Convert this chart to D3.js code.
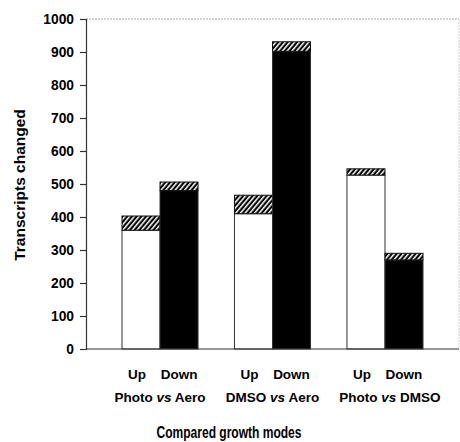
<!DOCTYPE html>
<html>
<head>
<meta charset="utf-8">
<script src="https://cdn.jsdelivr.net/npm/d3@7/dist/d3.min.js"></script>
<style>
  html, body { margin: 0; padding: 0; background: #fff; }
  svg { display: block; font-family: Arial, "Liberation Sans", sans-serif; }
</style>
</head>
<body>
<svg id="chart" width="460" height="442"></svg>
<script>
// Comparisons (pairs of growth modes)
const groups = ["Photo vs Aero", "DMSO vs Aero", "Photo vs DMSO"];
const groupA = ["Photo", "DMSO", "Photo"];
const groupB = ["Aero", "Aero", "DMSO"];
const directions = ["Up", "Down"];

// Transcripts changed: solid portion and hatched portion stacked on top
const upBase = [360, 410, 527];
const upHatched = [43, 56, 19];
const downBase = [480, 902, 270];
const downHatched = [26, 29, 20];

const yTicks = [0, 100, 200, 300, 400, 500, 600, 700, 800, 900, 1000];

(function () {
  const svg = d3.select("#chart");
  const plotLeft = 86, plotRight = 459, plotTop = 19, plotBottom = 349;

  // Hatch pattern for the top segments
  const defs = svg.append("defs");
  const pat = defs.append("pattern")
    .attr("id", "hatch")
    .attr("patternUnits", "userSpaceOnUse")
    .attr("width", 3.6).attr("height", 4)
    .attr("patternTransform", "rotate(40)");
  pat.append("rect").attr("width", 3.6).attr("height", 4).attr("fill", "#000");
  pat.append("rect").attr("x", 0).attr("y", 0).attr("width", 1.5).attr("height", 4).attr("fill", "#fff");

  const y = d3.scaleLinear().domain([0, 1000]).range([plotBottom, plotTop]);
  const x = d3.scaleBand().domain(groups).range([plotLeft, plotRight])
    .paddingInner(0.324).paddingOuter(0.32);
  const xs = d3.scaleBand().domain(directions).range([0, x.bandwidth()]).padding(0);

  // Plot frame: dotted top and right edges
  svg.append("line").attr("x1", plotLeft).attr("x2", plotRight).attr("y1", plotTop).attr("y2", plotTop)
    .attr("stroke", "#aaa").attr("stroke-width", 1).attr("stroke-dasharray", "2,1");
  svg.append("line").attr("x1", plotRight).attr("x2", plotRight).attr("y1", plotTop).attr("y2", plotBottom)
    .attr("stroke", "#ccc").attr("stroke-width", 1).attr("stroke-dasharray", "2,1");

  // Build stacked bar records
  const bars = [];
  groups.forEach((g, i) => {
    bars.push({ g, dir: "Up", base: upBase[i], extra: upHatched[i], fill: "#fff" });
    bars.push({ g, dir: "Down", base: downBase[i], extra: downHatched[i], fill: "#000" });
  });

  const barG = svg.append("g");
  bars.forEach(b => {
    const bx = x(b.g) + xs(b.dir);
    const w = xs.bandwidth();
    barG.append("rect")
      .attr("x", bx).attr("y", y(b.base))
      .attr("width", w).attr("height", y(0) - y(b.base))
      .attr("fill", b.fill).attr("stroke", "#333").attr("stroke-width", 1);
    barG.append("rect")
      .attr("x", bx).attr("y", y(b.base + b.extra))
      .attr("width", w).attr("height", y(b.base) - y(b.base + b.extra))
      .attr("fill", "url(#hatch)").attr("stroke", "#111").attr("stroke-width", 1);
  });

  // Y axis
  const yAxis = d3.axisLeft(y).tickValues(yTicks).tickSize(6).tickPadding(6).tickFormat(d3.format("d"));
  const ya = svg.append("g").attr("transform", `translate(${plotLeft},0)`).call(yAxis);
  ya.select(".domain").attr("stroke", "#333").attr("stroke-width", 1.2);
  ya.selectAll(".tick line").attr("stroke", "#333").attr("stroke-width", 1.2);
  ya.selectAll(".tick text").attr("font-size", 13.8).attr("font-weight", "bold")
    .attr("fill", "#000").attr("font-family", "Arial, 'Liberation Sans', sans-serif");

  // X axis baseline
  svg.append("line").attr("x1", plotLeft).attr("x2", plotRight).attr("y1", plotBottom).attr("y2", plotBottom)
    .attr("stroke", "#333").attr("stroke-width", 1.2);

  // Up / Down labels under each bar
  bars.forEach(b => {
    svg.append("text")
      .attr("x", x(b.g) + xs(b.dir) + xs.bandwidth() / 2 + (b.dir === "Up" ? -4 : 0))
      .attr("y", 379)
      .attr("text-anchor", "middle")
      .attr("font-size", 13.5).attr("font-weight", "bold")
      .text(b.dir);
  });

  // Comparison labels with italic "vs"
  groups.forEach((g, i) => {
    const t = svg.append("text")
      .attr("x", x(g) + x.bandwidth() / 2 + (i === 2 ? 5 : 0))
      .attr("y", 402)
      .attr("text-anchor", "middle")
      .attr("font-size", 13.5).attr("font-weight", "bold");
    t.append("tspan").text(groupA[i] + " ");
    t.append("tspan").attr("font-style", "italic").text("vs");
    t.append("tspan").text(" " + groupB[i]);
  });

  // Axis titles
  svg.append("text")
    .attr("transform", `translate(25,${(plotTop + plotBottom) / 2 + 1}) rotate(-90)`)
    .attr("text-anchor", "middle")
    .attr("font-size", 15.5).attr("font-weight", "bold")
    .text("Transcripts changed");

  svg.append("text")
    .attr("x", 229).attr("y", 438)
    .attr("text-anchor", "middle")
    .attr("font-size", 16).attr("font-weight", "bold")
    .attr("textLength", 145).attr("lengthAdjust", "spacingAndGlyphs")
    .text("Compared growth modes");
})();
</script>
</body>
</html>
